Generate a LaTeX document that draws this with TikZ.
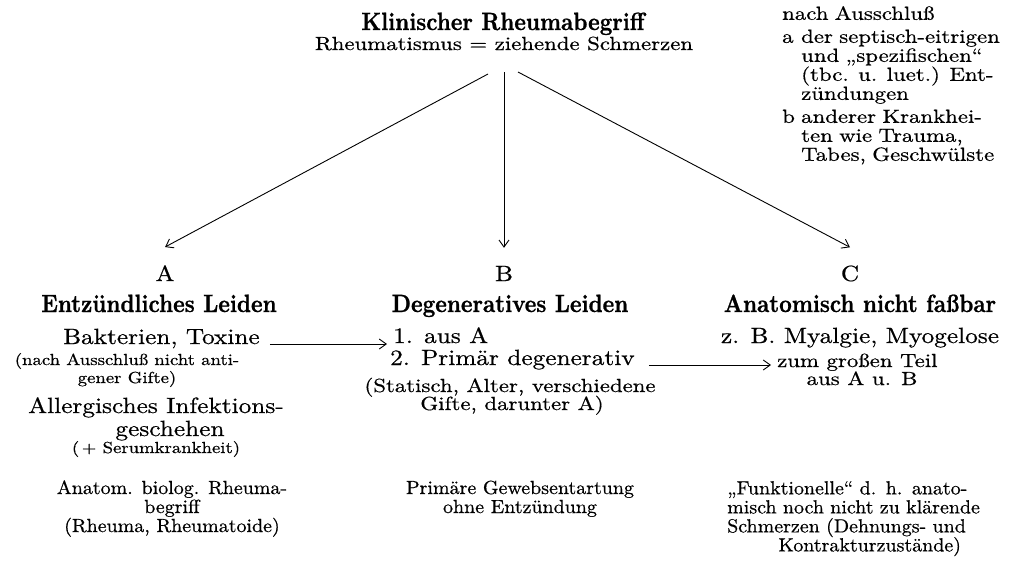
\documentclass[tikz,border=0pt]{standalone}
\usepackage{fontspec}
\usepackage{graphicx}
\usetikzlibrary{arrows.meta}

% Type faces: a widened roman for the running text, a narrowed bold
% for the headings and a plain roman for the closing notes; a slight
% emboldening gives the heavier strokes of the printed page.
\newfontfamily\bodyfam{lmroman10-regular.otf}[FakeStretch=1.15, FakeBold=0.6]
\newfontfamily\midfam{lmroman10-regular.otf}[FakeStretch=1.2, FakeBold=0.6]
\newfontfamily\smallfam{lmroman10-regular.otf}[FakeStretch=1.17, FakeBold=0.6]
\newfontfamily\boldfam{lmroman10-bold.otf}[FakeStretch=0.88, FakeBold=0.8]
\newfontfamily\condfam{lmroman10-regular.otf}[FakeStretch=1.05, FakeBold=0.6]

\newcommand\fbig{\bodyfam\fontsize{22}{23}\selectfont}
\newcommand\fmid{\midfam\fontsize{19}{19}\selectfont}
\newcommand\fsmall{\smallfam\fontsize{16}{18}\selectfont}
\newcommand\fbold{\boldfam\fontsize{25}{26}\selectfont}
\newcommand\fcond{\condfam\fontsize{19}{19}\selectfont}

% hanging item for the list of exclusions
\newcommand\notesitem[2]{\hangindent=19pt\hangafter=1\noindent\makebox[19pt][l]{#1}#2}

\tikzset{
  txt/.style={inner sep=0pt, anchor=base},
  big/.style={txt, font=\fbig},
  mid/.style={txt, font=\fmid},
  small/.style={txt, font=\fsmall},
  head/.style={txt, font=\fbold},
  cond/.style={txt, font=\fcond},
  letter/.style={big, inner ysep=18pt},
  target/.style={inner xsep=6pt},
  arr/.style={-{Straight Barb[length=7pt,width=10pt]}, line width=0.9pt},
}

\begin{document}
\begin{tikzpicture}[x=1pt, y=-1pt]
\useasboundingbox (0,0) rectangle (1015,560);

% title
\node[head] (title) at (503,30) {Klinischer Rheumabegriff};
\node[mid]  (sub)   at (504,50) {Rheumatismus = ziehende Schmerzen};

% exclusions
\node[anchor=north west, inner sep=0pt, text width=230pt, font=\fmid] (notes) at (782,6)
  {\parindent=0pt \parskip=4pt \hyphenpenalty=10000 \tolerance=9999 \emergencystretch=20pt
   nach Ausschluß\par
   \notesitem{a}{der septisch-eitrigen\linebreak und „spezifischen“\linebreak (tbc. u. luet.) Ent-\linebreak zündungen}\par
   \notesitem{b}{anderer Krankhei-\linebreak ten wie Trauma,\linebreak Tabes, Geschwülste}\par};

% three branches
\coordinate (s1) at (488,74);
\coordinate (s2) at (504,72);
\coordinate (s3) at (518,72);

\node[letter] (lA) at (165,281) {A};
\node[letter] (lB) at (504,281) {B};
\node[letter] (lC) at (850,281) {C};

\draw[arr] (s1) -- (lA.north);
\draw[arr] (s2) -- (lB.north);
\draw[arr] (s3) -- (lC.north);

% column A
\node[head] (hA) at (159,312) {Entzündliches Leiden};
\node[big, anchor=base west] (a1) at (63,344) {Bakterien, Toxine};
\node[small] (n1) at (127,365) {(nach Ausschluß nicht anti-};
\node[small] (n2) at (127,383) {gener Gifte)};
\node[big] (al1) at (156,413) {Allergisches Infektions-};
\node[big] (al2) at (170,436) {geschehen};
\node[small] (se) at (156,453) {(\,+ Serumkrankheit)};

% column B
\node[head] (hB) at (510,312) {Degeneratives Leiden};
\node[big, target, anchor=base west] (b1) at (387,343) {1. aus A};
\node[big, target, anchor=base west] (b2) at (384,365) {2. Primär degenerativ};
\node[mid] (st1) at (510,392) {(Statisch, Alter, verschiedene};
\node[mid] (st2) at (512,410) {Gifte, darunter A)};

% column C
\node[head] (hC) at (860,312) {Anatomisch nicht faßbar};
\node[big] (c1) at (860,343) {z. B. Myalgie, Myogelose};
\node[mid, target, anchor=base west] (z1) at (771,367) {zum großen Teil};
\node[mid] (z2) at (862,385) {aus A u. B};

% cross links
\draw[arr] ([xshift=10pt]a1.base east) -- (a1.base east -| b1.west);
\draw[arr] ([xshift=8pt]b2.base east) -- (b2.base east -| z1.west);

% closing characterisations
\node[cond] (ba1) at (172,494) {Anatom. biolog. Rheuma-};
\node[cond] (ba2) at (172,513) {begriff};
\node[cond] (ba3) at (172,532) {(Rheuma, Rheumatoide)};

\node[cond] (bb1) at (520,494) {Primäre Gewebsentartung};
\node[cond] (bb2) at (520,513) {ohne Entzündung};

\node[anchor=north west, inner sep=0pt, text width=285pt, font=\fcond] (bc) at (727,481)
  {\parindent=0pt \hyphenpenalty=10000 \tolerance=9999 \emergencystretch=20pt
   {\parfillskip=0pt „Funktionelle“ d. h. anato-\linebreak misch noch nicht zu klärende\linebreak Schmerzen (Dehnungs- und\par}
   \centering Kontrakturzustände)\par};
\end{tikzpicture}
\end{document}
